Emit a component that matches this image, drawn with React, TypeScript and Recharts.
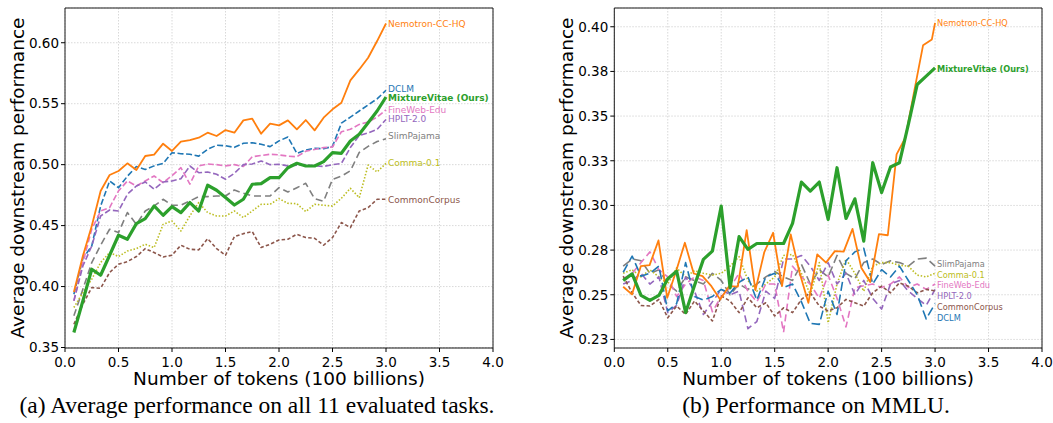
import {
  LineChart,
  Line,
  XAxis,
  YAxis,
  CartesianGrid,
  ReferenceArea,
  ReferenceDot,
} from "recharts";

// token counts (100 billions) of each checkpoint
const tokens = [
  0.083, 0.167, 0.25, 0.333, 0.417, 0.5, 0.583, 0.667, 0.75, 0.833, 0.917, 1.0,
  1.083, 1.167, 1.25, 1.333, 1.417, 1.5, 1.583, 1.667, 1.75, 1.833, 1.917, 2.0,
  2.083, 2.167, 2.25, 2.333, 2.417, 2.5, 2.583, 2.667, 2.75, 2.833, 2.917, 3.0,
];
// Nemotron's MMLU run was logged on a slightly different token grid
const nemotronMmluTokens = [
  0.083, 0.165, 0.248, 0.33, 0.413, 0.495, 0.578, 0.66, 0.743, 0.825, 0.908, 0.99,
  1.073, 1.155, 1.238, 1.32, 1.403, 1.485, 1.568, 1.65, 1.733, 1.815, 1.898, 1.98,
  2.063, 2.145, 2.228, 2.31, 2.393, 2.475, 2.558, 2.64, 2.723, 2.805, 2.888, 2.97, 3.0,
];

// (a) average over 11 tasks
const avgNemotron = [0.3956, 0.425, 0.4497, 0.4784, 0.4915, 0.4948, 0.5011, 0.4956, 0.5071, 0.5082, 0.5172, 0.5112, 0.5188, 0.5202, 0.5221, 0.5262, 0.5235, 0.5284, 0.5262, 0.5363, 0.5377, 0.5254, 0.5336, 0.5322, 0.5363, 0.529, 0.5366, 0.5281, 0.5385, 0.5454, 0.5508, 0.5691, 0.5781, 0.5877, 0.6014, 0.6158];
const avgDclm = [0.3937, 0.423, 0.4333, 0.4661, 0.4866, 0.4811, 0.4905, 0.4985, 0.496, 0.499, 0.501, 0.5098, 0.509, 0.5085, 0.507, 0.5126, 0.5159, 0.5155, 0.5142, 0.5175, 0.518, 0.5167, 0.5148, 0.5195, 0.5227, 0.5093, 0.512, 0.5135, 0.513, 0.515, 0.534, 0.539, 0.544, 0.549, 0.554, 0.561];
const avgMixtureVitae = [0.3623, 0.3883, 0.4142, 0.4093, 0.4257, 0.4421, 0.4388, 0.4516, 0.4557, 0.4661, 0.4585, 0.4656, 0.4607, 0.4689, 0.462, 0.4831, 0.479, 0.473, 0.4669, 0.4716, 0.4839, 0.4844, 0.4893, 0.4893, 0.4975, 0.5011, 0.4989, 0.4989, 0.5025, 0.5098, 0.5093, 0.5194, 0.5249, 0.5344, 0.544, 0.5555];
const avgFineweb = [0.3883, 0.4197, 0.447, 0.462, 0.4648, 0.4784, 0.4866, 0.4825, 0.4866, 0.4907, 0.4852, 0.491, 0.4975, 0.484, 0.499, 0.5005, 0.5, 0.499, 0.5, 0.4985, 0.5065, 0.5075, 0.5085, 0.508, 0.507, 0.5065, 0.511, 0.5125, 0.514, 0.5145, 0.527, 0.529, 0.533, 0.535, 0.539, 0.545];
const avgHplt = [0.3883, 0.4169, 0.4333, 0.4579, 0.4628, 0.462, 0.4757, 0.4825, 0.4858, 0.4798, 0.4858, 0.4866, 0.4885, 0.4989, 0.4934, 0.494, 0.4921, 0.488, 0.4929, 0.5, 0.5005, 0.503, 0.5, 0.5003, 0.499, 0.4995, 0.5, 0.499, 0.4985, 0.5, 0.501, 0.514, 0.524, 0.526, 0.529, 0.5371];
const avgSlimPajama = [0.376, 0.3978, 0.4197, 0.434, 0.447, 0.4443, 0.4607, 0.4511, 0.462, 0.4661, 0.4716, 0.4667, 0.4667, 0.4702, 0.4738, 0.4738, 0.4743, 0.4743, 0.4792, 0.4765, 0.4743, 0.4743, 0.4743, 0.4811, 0.4776, 0.4811, 0.4847, 0.472, 0.47, 0.488, 0.4905, 0.495, 0.51, 0.515, 0.519, 0.5213];
const avgComma = [0.3828, 0.395, 0.406, 0.4197, 0.4279, 0.4246, 0.4292, 0.4311, 0.4347, 0.432, 0.451, 0.4538, 0.4456, 0.458, 0.4689, 0.4607, 0.4579, 0.4579, 0.462, 0.4566, 0.462, 0.4675, 0.4675, 0.4721, 0.4683, 0.468, 0.4615, 0.4675, 0.4667, 0.4661, 0.4724, 0.4806, 0.4729, 0.4997, 0.494, 0.5011];
const avgCommonCorpus = [0.3691, 0.3855, 0.3992, 0.3986, 0.4115, 0.4183, 0.4205, 0.4246, 0.4311, 0.4279, 0.4243, 0.4257, 0.4339, 0.4306, 0.4301, 0.4393, 0.4311, 0.4257, 0.441, 0.4434, 0.4451, 0.432, 0.4347, 0.4382, 0.4388, 0.4429, 0.4402, 0.4396, 0.4339, 0.4402, 0.4525, 0.4484, 0.462, 0.4648, 0.4716, 0.4716];

// (b) MMLU
const mmluNemotron = [0.2545, 0.2502, 0.266, 0.2666, 0.2804, 0.2483, 0.2632, 0.2791, 0.2619, 0.2604, 0.2548, 0.2474, 0.2548, 0.2545, 0.2862, 0.2526, 0.2739, 0.2847, 0.2548, 0.2838, 0.2623, 0.2455, 0.2726, 0.268, 0.2744, 0.2741, 0.2869, 0.2651, 0.2571, 0.2839, 0.2833, 0.3286, 0.338, 0.364, 0.3897, 0.3929, 0.4022];
const mmluMixtureVitae = [0.258, 0.2617, 0.2496, 0.2468, 0.2496, 0.259, 0.2632, 0.24, 0.2552, 0.2698, 0.2744, 0.2996, 0.2539, 0.2825, 0.2754, 0.2787, 0.2787, 0.2787, 0.2787, 0.29, 0.3131, 0.308, 0.3131, 0.2922, 0.3211, 0.2927, 0.3037, 0.28, 0.3239, 0.3072, 0.3215, 0.3239, 0.3454, 0.3677, 0.3724, 0.377];
const mmluSlimPajama = [0.266, 0.27, 0.269, 0.262, 0.264, 0.256, 0.252, 0.26, 0.258, 0.256, 0.262, 0.258, 0.25, 0.256, 0.253, 0.256, 0.26, 0.263, 0.26, 0.258, 0.267, 0.256, 0.264, 0.26, 0.272, 0.262, 0.259, 0.268, 0.27, 0.267, 0.269, 0.268, 0.266, 0.27, 0.2705, 0.266];
const mmluComma = [0.262, 0.264, 0.26, 0.264, 0.26, 0.256, 0.265, 0.26, 0.2635, 0.262, 0.261, 0.262, 0.266, 0.2713, 0.258, 0.252, 0.256, 0.26, 0.272, 0.2725, 0.262, 0.25, 0.268, 0.2343, 0.256, 0.27, 0.262, 0.252, 0.266, 0.268, 0.268, 0.2665, 0.266, 0.261, 0.26, 0.262];
const mmluFineweb = [0.259, 0.262, 0.268, 0.274, 0.264, 0.26, 0.249, 0.256, 0.26, 0.258, 0.2405, 0.249, 0.254, 0.262, 0.252, 0.246, 0.256, 0.256, 0.229, 0.266, 0.26, 0.256, 0.248, 0.261, 0.248, 0.232, 0.254, 0.255, 0.256, 0.254, 0.256, 0.26, 0.254, 0.256, 0.253, 0.256];
const mmluHplt = [0.256, 0.258, 0.262, 0.256, 0.26, 0.24, 0.244, 0.26, 0.252, 0.239, 0.246, 0.253, 0.25, 0.252, 0.231, 0.235, 0.252, 0.248, 0.27, 0.27, 0.272, 0.266, 0.258, 0.268, 0.256, 0.262, 0.25, 0.258, 0.248, 0.242, 0.256, 0.258, 0.252, 0.248, 0.244, 0.253];
const mmluCommonCorpus = [0.2604, 0.2511, 0.244, 0.2437, 0.2474, 0.2371, 0.2437, 0.239, 0.2465, 0.2409, 0.2353, 0.2493, 0.2465, 0.24, 0.2483, 0.2427, 0.2455, 0.2381, 0.2427, 0.24, 0.2474, 0.2511, 0.2437, 0.2409, 0.2427, 0.2474, 0.2455, 0.2437, 0.2511, 0.2548, 0.2511, 0.2567, 0.2548, 0.2511, 0.253, 0.2522];
const mmluDclm = [0.2626, 0.2716, 0.2604, 0.262, 0.266, 0.241, 0.245, 0.268, 0.249, 0.247, 0.249, 0.253, 0.251, 0.257, 0.26, 0.247, 0.26, 0.262, 0.254, 0.256, 0.246, 0.234, 0.2334, 0.252, 0.239, 0.269, 0.274, 0.276, 0.256, 0.264, 0.26, 0.266, 0.258, 0.25, 0.2365, 0.245];

// where each end-of-line annotation sits (y value, annotation order as in the figure)
const avgLabelAt = [0.6158, 0.5623, 0.5546, 0.5454, 0.538, 0.5235, 0.5016, 0.4713];
const mmluLabelAt = [0.4022, 0.3763, 0.267, 0.261, 0.2552, 0.2493, 0.2433, 0.2371];

const xTicks = [0, 0.5, 1, 1.5, 2, 2.5, 3, 3.5, 4];
const avgTicks = [0.35, 0.4, 0.45, 0.5, 0.55, 0.6];
const mmluTicks = [0.225, 0.25, 0.275, 0.3, 0.325, 0.35, 0.375, 0.4];
const mmluTickLabels = ["0.23", "0.25", "0.28", "0.30", "0.33", "0.35", "0.38", "0.40"];

const FONT = "DejaVu Sans";

const C = {
  orange: "#ff7f0e",
  blue: "#1f77b4",
  green: "#2ca02c",
  pink: "#e377c2",
  purple: "#9467bd",
  grey: "#7f7f7f",
  olive: "#bcbd22",
  brown: "#8c564b",
};

interface SeriesDef {
  name: string;
  color: string;
  width: number;
  dash?: string;
  x: number[];
  y: number[];
  labelAt: number;
  bold?: boolean;
}

const avgSeries: SeriesDef[] = [
  { name: "Nemotron-CC-HQ", color: C.orange, width: 1.8, x: tokens, y: avgNemotron, labelAt: avgLabelAt[0] },
  { name: "DCLM", color: C.blue, width: 1.6, dash: "6 2.6", x: tokens, y: avgDclm, labelAt: avgLabelAt[1] },
  { name: "MixtureVitae (Ours)", color: C.green, width: 3.2, x: tokens, y: avgMixtureVitae, labelAt: avgLabelAt[2], bold: true },
  { name: "FineWeb-Edu", color: C.pink, width: 1.6, dash: "6 2.6", x: tokens, y: avgFineweb, labelAt: avgLabelAt[3] },
  { name: "HPLT-2.0", color: C.purple, width: 1.6, dash: "6 2.6", x: tokens, y: avgHplt, labelAt: avgLabelAt[4] },
  { name: "SlimPajama", color: C.grey, width: 1.6, dash: "7 4", x: tokens, y: avgSlimPajama, labelAt: avgLabelAt[5] },
  { name: "Comma-0.1", color: C.olive, width: 1.6, dash: "1.5 1.8", x: tokens, y: avgComma, labelAt: avgLabelAt[6] },
  { name: "CommonCorpus", color: C.brown, width: 1.6, dash: "3.5 2.2", x: tokens, y: avgCommonCorpus, labelAt: avgLabelAt[7] },
];

const mmluSeries: SeriesDef[] = [
  { name: "Nemotron-CC-HQ", color: C.orange, width: 1.8, x: nemotronMmluTokens, y: mmluNemotron, labelAt: mmluLabelAt[0] },
  { name: "MixtureVitae (Ours)", color: C.green, width: 3.2, x: tokens, y: mmluMixtureVitae, labelAt: mmluLabelAt[1], bold: true },
  { name: "SlimPajama", color: C.grey, width: 1.6, dash: "9 4", x: tokens, y: mmluSlimPajama, labelAt: mmluLabelAt[2] },
  { name: "Comma-0.1", color: C.olive, width: 1.6, dash: "1.5 1.8", x: tokens, y: mmluComma, labelAt: mmluLabelAt[3] },
  { name: "FineWeb-Edu", color: C.pink, width: 1.6, dash: "7 4", x: tokens, y: mmluFineweb, labelAt: mmluLabelAt[4] },
  { name: "HPLT-2.0", color: C.purple, width: 1.6, dash: "7 4", x: tokens, y: mmluHplt, labelAt: mmluLabelAt[5] },
  { name: "CommonCorpus", color: C.brown, width: 1.6, dash: "3.5 2.2", x: tokens, y: mmluCommonCorpus, labelAt: mmluLabelAt[6] },
  { name: "DCLM", color: C.blue, width: 1.6, dash: "9 4", x: tokens, y: mmluDclm, labelAt: mmluLabelAt[7] },
];

// thin dashed series first, then orange, then the thick green on top
const drawOrder = (s: SeriesDef) => (s.color === C.green ? 2 : s.color === C.orange ? 1 : 0);

function toPoints(x: number[], y: number[]) {
  return y.map((v, i) => ({ x: x[i], y: v }));
}

interface PanelProps {
  series: SeriesDef[];
  yDomain: [number, number];
  yTicks: number[];
  formatY: (v: number) => string;
  labelSize: number;
  width: number;
  marginLeft: number;
  marginRight: number;
}

function Panel({ series, yDomain, yTicks, formatY, labelSize, width, marginLeft, marginRight }: PanelProps) {
  const tick = { fontSize: 13.5, fill: "#000", fontFamily: FONT };
  const lines = [...series].sort((a, b) => drawOrder(a) - drawOrder(b));
  return (
    <LineChart width={width} height={400} margin={{ top: 8, right: marginRight, bottom: 0, left: marginLeft }}>
      <CartesianGrid stroke="#cfcfcf" strokeDasharray="1.5 1.5" strokeWidth={0.8} />
      <XAxis
        type="number"
        dataKey="x"
        domain={[0, 4]}
        ticks={xTicks}
        allowDataOverflow
        tickFormatter={(v: number) => v.toFixed(1)}
        tick={tick}
        axisLine={false}
        tickLine={{ stroke: "#000" }}
        tickSize={4}
        tickMargin={5}
        height={52}
        label={{
          value: "Number of tokens (100 billions)",
          position: "insideBottom",
          offset: 15,
          fontSize: 18.5,
          fill: "#000",
          fontFamily: FONT,
        }}
      />
      <YAxis
        type="number"
        domain={yDomain}
        ticks={yTicks}
        allowDataOverflow
        tickFormatter={formatY}
        tick={tick}
        axisLine={false}
        tickLine={{ stroke: "#000" }}
        tickSize={4}
        tickMargin={2}
        width={65}
        label={{
          value: "Average downstream performance",
          angle: -90,
          position: "insideLeft",
          offset: 17,
          fontSize: 18.5,
          fill: "#000",
          fontFamily: FONT,
          style: { textAnchor: "middle" },
        }}
      />
      <ReferenceArea x1={0} x2={4} y1={yDomain[0]} y2={yDomain[1]} fill="none" stroke="#1a1a1a" strokeWidth={1} />
      {lines.map((s) => (
        <Line
          key={s.name}
          data={toPoints(s.x, s.y)}
          dataKey="y"
          name={s.name}
          stroke={s.color}
          strokeWidth={s.width}
          strokeDasharray={s.dash}
          strokeLinejoin="round"
          dot={false}
          isAnimationActive={false}
        />
      ))}
      {series.map((s) => (
        <ReferenceDot
          key={`lbl-${s.name}`}
          x={3}
          y={s.labelAt}
          r={0}
          fill="none"
          stroke="none"
          label={{
            value: s.name,
            position: "right",
            offset: 2,
            fill: s.color,
            fontSize: labelSize,
            fontFamily: FONT,
            fontWeight: s.bold ? 700 : 400,
          }}
        />
      ))}
    </LineChart>
  );
}

const formatAvg = (v: number) => v.toFixed(2);
const formatMmlu = (v: number) => {
  const i = mmluTicks.findIndex((t) => Math.abs(t - v) < 1e-9);
  return i >= 0 ? mmluTickLabels[i] : v.toFixed(2);
};

export default function App() {
  return (
    <div style={{ position: "absolute", left: 0, top: 0, width: 1053, height: 423, background: "#fff" }}>
      <div style={{ position: "absolute", left: 0, top: 0 }}>
        <Panel
          series={avgSeries}
          yDomain={[0.3496, 0.6285]}
          yTicks={avgTicks}
          formatY={formatAvg}
          labelSize={9}
          width={525}
          marginLeft={0}
          marginRight={32}
        />
      </div>
      <div style={{ position: "absolute", left: 535, top: 0 }}>
        <Panel
          series={mmluSeries}
          yDomain={[0.2202, 0.4105]}
          yTicks={mmluTicks}
          formatY={formatMmlu}
          labelSize={8.2}
          width={520}
          marginLeft={14.3}
          marginRight={13}
        />
      </div>
      <svg width={1053} height={423} style={{ position: "absolute", left: 0, top: 0, pointerEvents: "none" }}>
        <text x={257} y={413} textAnchor="middle" fontSize={23.5} fontFamily="Liberation Serif" fill="#000">
          (a) Average performance on all 11 evaluated tasks.
        </text>
        <text x={816} y={413} textAnchor="middle" fontSize={23.5} fontFamily="Liberation Serif" fill="#000">
          (b) Performance on MMLU.
        </text>
      </svg>
    </div>
  );
}
